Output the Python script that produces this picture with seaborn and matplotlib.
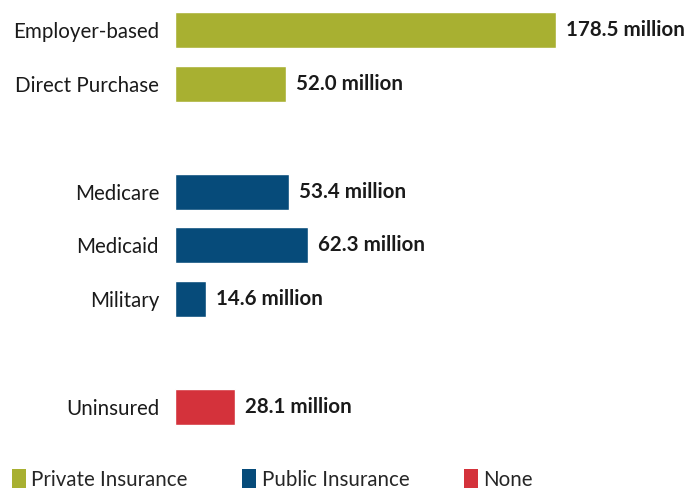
import matplotlib
matplotlib.use("Agg")
import matplotlib.pyplot as plt
import seaborn as sns
import pandas as pd
from matplotlib.patches import Patch

categories = ["Employer-based", "Direct Purchase", "Medicare", "Medicaid", "Military", "Uninsured"]
values = [178.5, 52.0, 53.4, 62.3, 14.6, 28.1]
groups = ["Private Insurance", "Private Insurance", "Public Insurance", "Public Insurance",
          "Public Insurance", "None"]
group_order = ["Private Insurance", "Public Insurance", "None"]
colors = {"Private Insurance": "#a8b031", "Public Insurance": "#064b7a", "None": "#d4323b"}

# layout: gap of one slot between groups
positions = []
for i, g in enumerate(groups):
    positions.append(i + group_order.index(g))

df = pd.DataFrame({"category": categories, "value": values, "group": groups, "pos": positions})

sns.set_theme(style="white")
plt.rcParams["font.family"] = ["Lato", "DejaVu Sans"]

FS = 14.8

fig = plt.figure(figsize=(6.9, 4.88), dpi=100)
ax = fig.add_axes([175 / 690, 43 / 488, 515 / 690, 445 / 488])

sns.barplot(data=df, x="value", y="pos", hue="group", hue_order=group_order,
            palette=colors, orient="h", native_scale=True, dodge=False,
            width=0.67, ax=ax, legend=False, saturation=1)

ax.set_xlim(0, 178.5 * 515 / 381)
ax.set_ylim(7.705, -0.557)
ax.set_yticks(positions)
ax.set_yticklabels(categories, fontsize=FS, color="#1a1a1a")
ax.tick_params(axis="y", length=0, pad=11.5)
ax.set_xticks([])
ax.set_xlabel("")
ax.set_ylabel("")
for s in ax.spines.values():
    s.set_visible(False)

for v, p in zip(values, positions):
    ax.annotate(f"{v:.1f} million", xy=(v, p), xytext=(7, 0), textcoords="offset points",
                va="center", ha="left", fontsize=FS, fontweight="bold", color="#1a1a1a")

handles = [Patch(facecolor=colors[g], edgecolor="none") for g in group_order]
fig.legend(handles, group_order, loc="lower left", bbox_to_anchor=(0.005, -0.02),
           ncol=3, frameon=False, fontsize=FS, handlelength=0.7, handleheight=1.0,
           handletextpad=0.25, columnspacing=2.65, borderaxespad=0)

fig.savefig("out.png", dpi=100)
